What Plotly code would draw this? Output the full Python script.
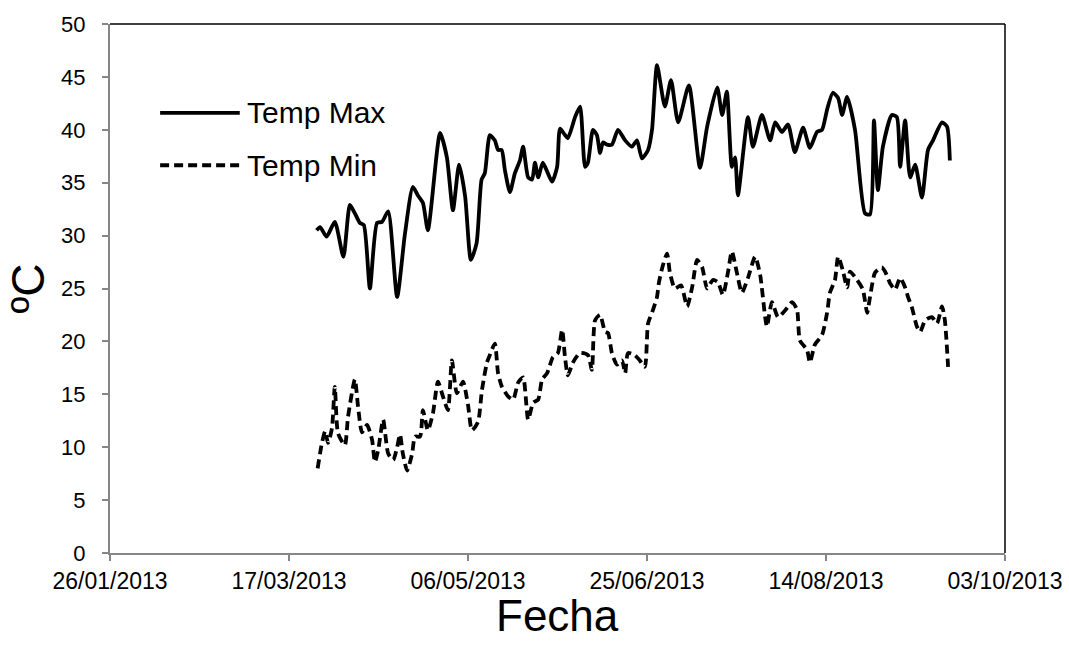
import pandas as pd
import plotly.graph_objects as go

BASE_DATE = "2013-01-26"

# day offsets (from BASE_DATE) and values
max_days = [57.7, 58.7, 60.5, 62.8, 65.2, 67.0, 68.4, 69.8, 70.9, 72.6, 74.6, 76.0, 77.7,
            80.2, 82.4, 84.6, 86.0, 87.4, 88.8, 92.2, 94.1, 95.8, 97.5, 99.2, 100.8, 102.4,
            103.8, 104.7, 106.1, 107.5, 108.4, 109.4, 110.3, 111.7, 113.1, 114.5, 115.4,
            116.8, 117.9, 118.7, 119.6, 120.9, 122.3, 123.5, 124.9, 125.7, 127.1, 127.9,
            129.9, 131.3, 132.7, 133.5, 134.9, 136.0, 136.9, 137.7, 138.8, 140.2, 141.9,
            143.9, 145.8, 147.2, 148.6, 150.3, 151.4, 152.8, 155.0, 156.7, 158.7, 161.7,
            164.8, 166.8, 169.6, 171.0, 172.3, 173.7, 174.6, 175.4, 178.2, 179.6, 182.1,
            184.4, 185.8, 187.7, 189.4, 191.3, 193.6, 195.5, 197.5, 198.9, 200.3, 201.9,
            203.4, 204.5, 205.9, 208.1, 210.9, 212.3, 213.4, 214.5, 215.9, 218.4, 219.8,
            220.7, 222.1, 223.5, 224.9, 226.8, 228.5, 229.9, 232.4, 233.8, 234.6]
temp_max = [30.5, 30.8, 29.9, 31.3, 28.0, 32.9, 32.1, 31.2, 31.0, 25.0, 31.2, 31.3, 32.3,
            24.2, 30.2, 34.6, 33.8, 33.1, 30.5, 39.7, 37.4, 32.4, 36.7, 33.7, 27.7, 29.3,
            35.3, 35.9, 39.5, 39.0, 38.1, 38.1, 36.2, 34.1, 35.9, 37.1, 38.4,
            35.5, 35.3, 36.9, 35.5, 36.9, 35.9, 35.1, 36.5, 40.1, 39.5, 39.2,
            41.2, 42.2, 36.5, 36.9, 40.0, 39.5, 37.8, 38.8, 38.6, 38.6, 40.0,
            39.0, 38.4, 39.0, 37.3, 38.1, 40.0, 46.1, 42.2, 44.7, 40.7, 44.2,
            36.4, 40.3, 44.0, 41.4, 43.6, 36.5, 37.4, 33.8, 41.2, 38.4, 41.4,
            39.0, 40.7, 39.8, 40.5, 37.9, 40.2, 38.3, 39.8, 40.0, 41.9, 43.5,
            43.0, 41.4, 43.1, 40.0, 32.1, 32.0, 40.9, 34.3, 38.4, 41.4, 41.2,
            36.5, 40.9, 35.5, 36.7, 33.6, 38.1, 39.0, 40.7, 40.3, 37.1]

min_days = [58.0, 59.2, 60.1, 60.9, 62.0, 62.8, 63.7, 65.6, 66.5, 68.4, 69.3, 70.4, 71.8,
            73.2, 74.0, 74.9, 76.3, 77.7, 79.1, 80.2, 81.0, 81.8, 83.0, 84.4, 85.2, 86.6,
            87.4, 88.8, 90.2, 91.6, 93.0, 94.4, 95.5, 96.9, 98.6, 100.0, 101.1, 102.8,
            103.9, 105.3, 106.1, 107.5, 108.4, 109.5, 111.2, 112.6, 114.0, 115.4, 116.8,
            118.2, 119.6, 120.7, 122.1, 123.7, 125.1, 126.3, 127.1, 127.9, 129.3, 131.3,
            133.5, 134.6, 135.5, 136.9, 138.3, 139.1, 140.2, 141.6, 143.0, 143.9, 144.7,
            146.6, 148.0, 149.4, 150.3, 151.7, 152.8, 153.3, 154.2, 155.6, 156.4, 157.8,
            159.5, 161.2, 162.6, 164.0, 165.4, 166.8, 168.4, 169.8, 171.2, 172.6, 173.7,
            175.1, 176.5, 178.2, 180.2, 181.6, 183.0, 183.5, 184.9, 186.6, 188.5, 190.5,
            191.9, 192.7, 194.7, 195.5, 196.9, 198.9, 200.3, 201.1, 202.5, 203.4, 204.7,
            205.9, 206.7, 208.7, 210.3, 211.5, 212.3, 213.7, 215.6, 216.5, 217.9, 219.3,
            220.7, 222.1, 222.9, 224.0, 225.4, 226.3, 227.7, 229.6, 231.0, 232.4, 233.2,
            234.1]
temp_min = [8.0, 10.4, 11.5, 10.4, 11.8, 15.7, 11.3, 10.2, 12.9, 16.4, 13.8, 11.4, 12.1,
            10.7, 8.6, 9.7, 12.6, 9.4, 8.8, 10.0, 11.2, 9.4, 7.8, 9.4, 11.0, 11.0,
            13.5, 11.6, 13.2, 16.2, 14.8, 13.5, 18.2, 15.1, 16.2, 14.0, 11.6, 12.4,
            15.4, 18.0, 18.7, 19.8, 17.0, 15.7, 14.8, 14.5, 16.1, 16.6, 12.6,
            14.2, 14.5, 16.4, 17.0, 18.5, 18.9, 21.1, 18.5, 16.8, 18.0, 18.9,
            18.7, 17.3, 22.0, 22.5, 20.9, 20.8, 18.9, 17.8, 18.2, 17.0, 18.9,
            18.7, 18.2, 17.6, 21.7, 23.0, 24.2, 25.5, 26.9, 28.3, 26.5, 25.0,
            25.3, 23.3, 25.1, 27.7, 27.0, 25.0, 25.8, 25.6, 24.4, 26.5, 28.5,
            26.5, 24.6, 26.0, 28.0, 26.3, 22.3, 21.4, 23.7, 22.3, 22.9, 23.7,
            23.0, 20.1, 19.2, 18.0, 19.7, 20.6, 22.7, 24.6, 25.8, 28.0, 26.7,
            25.1, 26.6, 25.8, 24.9, 22.7, 24.2, 26.5, 27.0, 26.6, 25.5, 24.9,
            26.0, 25.1, 24.2, 23.2, 21.4, 20.9, 22.0, 22.3, 21.7, 23.3, 22.0,
            17.6]

series_names = ["Temp Max", "Temp Min"]
x_title = "Fecha"
y_title = "ºC"
x_tick_dates = ["2013-01-26", "2013-03-17", "2013-05-06", "2013-06-25", "2013-08-14", "2013-10-03"]
y_ticks = [0, 5, 10, 15, 20, 25, 30, 35, 40, 45, 50]

base = pd.Timestamp(BASE_DATE)
x_max = base + pd.to_timedelta(max_days, unit="D")
x_min = base + pd.to_timedelta(min_days, unit="D")

FONT = "Liberation Sans, Arial, sans-serif"
GRAY = "#868686"
LW = 3.8
DASH = "9px,5px"

fig = go.Figure()
fig.add_trace(go.Scatter(x=x_max, y=temp_max, mode="lines", name=series_names[0],
                         line=dict(color="black", width=LW, shape="spline", smoothing=0.6),
                         showlegend=False))
fig.add_trace(go.Scatter(x=x_min, y=temp_min, mode="lines", name=series_names[1],
                         line=dict(color="black", width=LW, shape="spline", smoothing=0.6,
                                   dash=DASH),
                         showlegend=False))

# legend drawn manually (long line samples like the original)
legend_y = [0.832, 0.733]
legend_dash = ["solid", DASH]
for name, ly, dsh in zip(series_names, legend_y, legend_dash):
    fig.add_shape(type="line", xref="paper", yref="paper", x0=0.056, x1=0.145, y0=ly, y1=ly,
                  line=dict(color="black", width=LW, dash=dsh))
    fig.add_annotation(xref="paper", yref="paper", x=0.151, y=ly, text=name, showarrow=False,
                       xanchor="left", yanchor="middle", font=dict(family=FONT, size=30, color="black"))

# x-axis title placed like the original
fig.add_annotation(xref="paper", yref="paper", x=0.5, y=-0.119, text=x_title, showarrow=False,
                   xanchor="center", yanchor="middle", borderpad=0,
                   font=dict(family=FONT, size=44, color="black"))

# top and right black frame
fig.add_shape(type="line", xref="paper", yref="paper", x0=0, x1=1, y0=1, y1=1,
              line=dict(color="black", width=1.5))
fig.add_shape(type="line", xref="paper", yref="paper", x0=1, x1=1, y0=0, y1=1,
              line=dict(color="black", width=1.5))

fig.update_layout(
    width=1069, height=645,
    margin=dict(l=110, r=64, t=24, b=92),
    paper_bgcolor="white", plot_bgcolor="white",
    font=dict(family=FONT, color="black"),
    xaxis=dict(
        range=[x_tick_dates[0], x_tick_dates[-1]],
        tickmode="array",
        tickvals=x_tick_dates,
        ticktext=[pd.Timestamp(d).strftime("%d/%m/%Y") for d in x_tick_dates],
        ticks="outside", ticklen=6, tickcolor=GRAY, tickwidth=1.5,
        showline=True, linecolor=GRAY, linewidth=2,
        showgrid=False, zeroline=False, automargin=False,
        ticklabelstandoff=0,
        tickfont=dict(family=FONT, size=23, color="black"),
    ),
    yaxis=dict(
        range=[0, 50],
        tickmode="array", tickvals=y_ticks,
        ticks="outside", ticklen=6, tickcolor=GRAY, tickwidth=1.5,
        showline=True, linecolor=GRAY, linewidth=2,
        showgrid=False, zeroline=False, automargin=False,
        ticklabelstandoff=12,
        tickfont=dict(family=FONT, size=22, color="black"),
        title=dict(text=y_title, font=dict(family=FONT, size=46, color="black"), standoff=2),
    ),
)

fig.write_html("out.html", config={"displayModeBar": False},
               post_script="document.body.style.margin='0px';")
